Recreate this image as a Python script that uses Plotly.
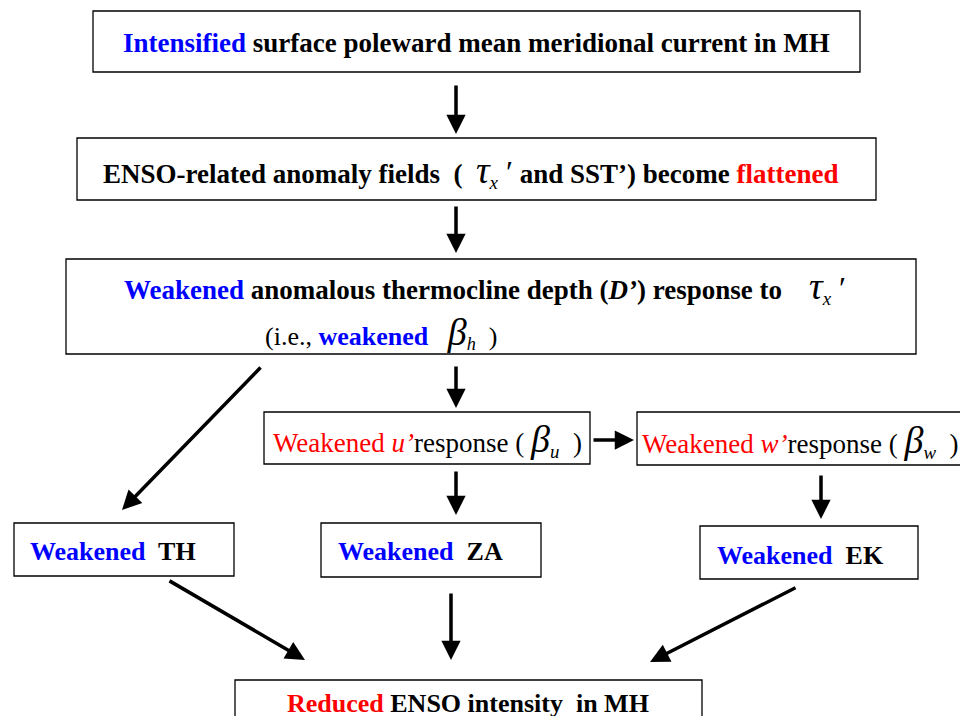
import plotly.graph_objects as go

# ---- content ----
BLUE = "#0000ff"
RED = "#ff0000"
TAU = "<span style='font-size:38px'><i>τ</i></span><sub><i>x</i></sub><span style='font-size:32px'> ′</span>"

def beta(sub):
    return f"<span style='font-size:38px'><i>β</i></span><sub><i>{sub}</i></sub>"

box_names = ["top", "enso", "thermo", "u", "w", "th", "za", "ek", "final"]
box_labels = [
    f"<b><span style='color:{BLUE}'>Intensified</span> surface poleward mean meridional current in MH</b>",
    f"<b>ENSO-related anomaly fields  (  </b>{TAU}<b> and SST’) become <span style='color:{RED}'>flattened</span></b>",
    f"<b><span style='color:{BLUE}'>Weakened</span> anomalous thermocline depth (<i>D’</i>) response to </b>   {TAU}",
    f"<span style='color:{RED}'>Weakened</span> <i><span style='color:{RED}'>u’</span></i>response ( {beta('u')}  )",
    f"<span style='color:{RED}'>Weakened</span> <i><span style='color:{RED}'>w’</span></i>response ( {beta('w')}  )",
    f"<b><span style='color:{BLUE}'>Weakened</span>  TH</b>",
    f"<b><span style='color:{BLUE}'>Weakened</span>  ZA</b>",
    f"<b><span style='color:{BLUE}'>Weakened</span>  EK</b>",
    f"<b><span style='color:{RED}'>Reduced</span> ENSO intensity  in MH</b>",
]
sub_label = f"(i.e., <b><span style='color:{BLUE}'>weakened</span></b>   {beta('h')}  )"

# ---- layout (page pixel coordinates) ----
box_x0 = [93, 77, 66, 264, 637, 14, 321, 700, 235]
box_x1 = [860, 876, 916, 590, 966, 234, 541, 918, 702]
box_y0 = [11, 138, 259, 412, 412, 523, 523, 526, 680]
box_y1 = [72, 200, 354, 464, 465, 576, 577, 579, 730]
text_x = [476, 471, 485, 427, 800, 113, 420, 800, 468]
text_y = [43, 171, 287, 440, 441, 551, 551, 555, 703]
text_size = [27, 27, 27, 27, 27, 26, 26, 26, 26]

arrow_from = [(456, 84), (456, 205), (456, 365), (262, 366), (592, 440),
              (456, 470), (821, 474), (168, 580), (451, 592), (797, 587)]
arrow_to = [(456, 134), (456, 253), (456, 408), (122, 510), (634, 440),
            (456, 515), (821, 519), (305, 660), (451, 660), (650, 662)]

OFF = 8  # default page body margin
W, H = 968, 716
fig = go.Figure()
fig.add_trace(go.Scatter(x=[OFF, W], y=[OFF, H], mode="markers",
                         marker=dict(opacity=0), hoverinfo="skip", showlegend=False))

for x0, x1, y0, y1 in zip(box_x0, box_x1, box_y0, box_y1):
    fig.add_shape(type="rect", x0=x0, x1=x1, y0=y0, y1=y1,
                  line=dict(color="black", width=1.3), fillcolor="white", layer="below")

FONT = "Liberation Serif, Times New Roman, serif"
for lab, tx, ty, ts in zip(box_labels, text_x, text_y, text_size):
    fig.add_annotation(x=tx, y=ty, text=lab, showarrow=False, xanchor="center",
                       yanchor="middle", font=dict(family=FONT, size=ts, color="black"))

fig.add_annotation(x=381, y=332, text=sub_label, showarrow=False, xanchor="center",
                   yanchor="middle", font=dict(family=FONT, size=26, color="black"))

for (fx, fy), (tx, ty) in zip(arrow_from, arrow_to):
    fig.add_annotation(x=tx, y=ty, ax=fx, ay=fy, xref="x", yref="y", axref="x", ayref="y",
                       text="", showarrow=True, arrowhead=2, arrowsize=1.1,
                       arrowwidth=3.5, arrowcolor="black", standoff=0, startstandoff=0)

fig.update_xaxes(range=[OFF, W], visible=False, fixedrange=True)
fig.update_yaxes(range=[H, OFF], visible=False, fixedrange=True)
fig.update_layout(width=W - OFF, height=H - OFF, margin=dict(l=0, r=0, t=0, b=0),
                  plot_bgcolor="white", paper_bgcolor="white", showlegend=False)
fig.write_html("out.html", config={"displayModeBar": False})
